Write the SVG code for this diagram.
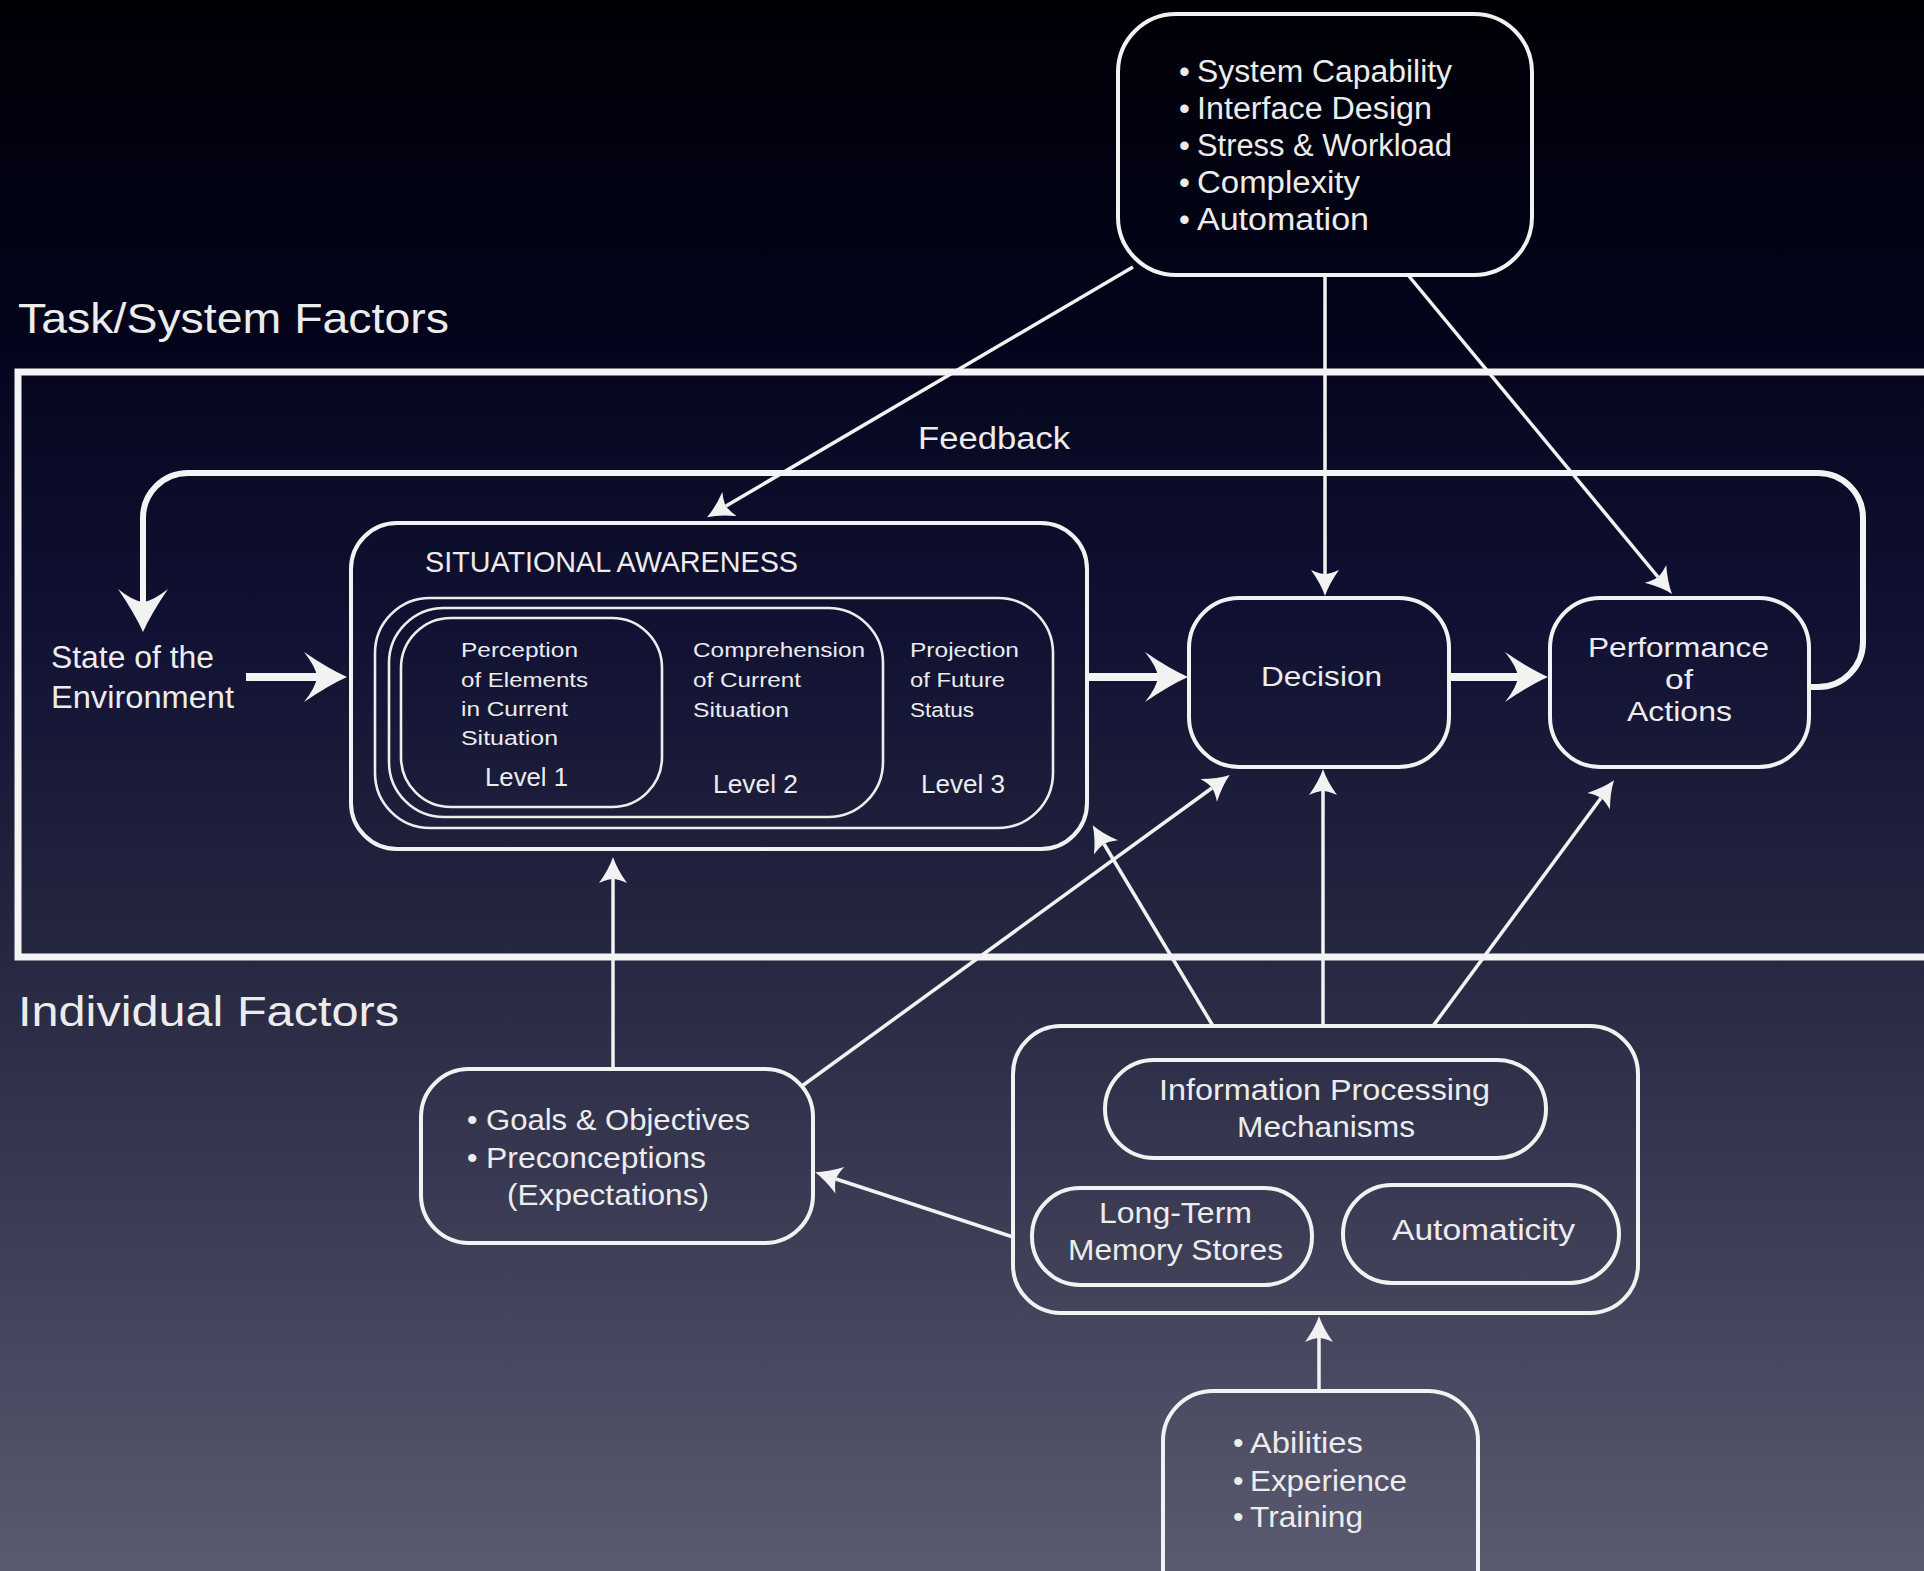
<svg xmlns="http://www.w3.org/2000/svg" width="1924" height="1571" viewBox="0 0 1924 1571">
  <defs>
    <linearGradient id="bg" x1="0" y1="0" x2="0" y2="1">
      <stop offset="0" stop-color="#000006"/>
      <stop offset="0.2" stop-color="#03041a"/>
      <stop offset="0.4" stop-color="#111233"/>
      <stop offset="0.6" stop-color="#25263f"/>
      <stop offset="0.8" stop-color="#3f4058"/>
      <stop offset="1" stop-color="#5a5b70"/>
    </linearGradient>
    <!-- small swept arrowhead, notch at origin -->
    <marker id="thin" markerUnits="userSpaceOnUse" viewBox="-6 -16 30 32" refX="0" refY="0" markerWidth="30" markerHeight="32" orient="auto" overflow="visible">
      <path d="M22,0 Q10,-4 -4,-14 Q0,-5 0,0 Q0,5 -4,14 Q10,4 22,0 Z" fill="#f2f2f2"/>
    </marker>
    <!-- large swept arrowhead, notch at origin -->
    <marker id="thick" markerUnits="userSpaceOnUse" viewBox="-16 -28 50 56" refX="0" refY="0" markerWidth="50" markerHeight="56" orient="auto" overflow="visible">
      <path d="M30,0 Q12,-8 -13,-25 Q-1,-10 0,0 Q-1,10 -13,25 Q12,8 30,0 Z" fill="#f2f2f2"/>
    </marker>
    <style>
      text { font-family: "Liberation Sans", Arial, sans-serif; fill: #ececec; }
      .box { fill: none; stroke: #f2f2f2; stroke-width: 4; }
      .lvl { fill: none; stroke: #ededed; stroke-width: 2.6; }
      .conn { fill: none; stroke: #f2f2f2; stroke-width: 3.5; marker-end: url(#thin); }
      .fat { fill: none; stroke: #f4f4f4; stroke-width: 8; marker-end: url(#thick); }
      .frame { fill: none; stroke: #f4f4f4; stroke-width: 7; }
      .head { font-size: 42px; }
      .t31 { font-size: 31px; }
      .t30 { font-size: 30px; }
      .t28 { font-size: 28px; }
      .t20 { font-size: 20px; }
      .t25 { font-size: 25px; }
    </style>
  </defs>

  <rect x="0" y="0" width="1924" height="1571" fill="url(#bg)"/>

  <!-- section labels and frame -->
  <text class="head" x="18" y="333" textLength="431" lengthAdjust="spacingAndGlyphs">Task/System Factors</text>
  <text class="head" x="18" y="1026" textLength="381" lengthAdjust="spacingAndGlyphs">Individual Factors</text>
  <path class="frame" d="M1935 372 L18 372 L18 957 L1935 957"/>

  <!-- connectors -->
  <g id="connectors">
    <path class="conn" d="M1133 267 L726 506"/>
    <path class="conn" d="M1325 275 L1325 574"/>
    <path class="conn" d="M1408 275 L1658 577"/>
    <path class="conn" d="M613 1069 L613 879"/>
    <path class="conn" d="M802 1086 L1212 788"/>
    <path class="conn" d="M1213 1026 L1104 844"/>
    <path class="conn" d="M1323 1026 L1323 791"/>
    <path class="conn" d="M1433 1026 L1601 798"/>
    <path class="conn" d="M1013 1237 L836 1179"/>
    <path class="conn" d="M1319 1391 L1319 1338"/>
    <path class="fat" d="M246 677 L317 677"/>
    <path class="fat" d="M1088 677 L1158 677"/>
    <path class="fat" d="M1449 677 L1518 677"/>
    <path id="feedback-loop" fill="none" stroke="#f4f4f4" stroke-width="6" marker-end="url(#thick)" d="M1809 687 L1818 687 A45 45 0 0 0 1863 642 L1863 518 A45 45 0 0 0 1818 473 L188 473 A45 45 0 0 0 143 518 L143 602"/>
    <text class="t31" x="918" y="449" textLength="152" lengthAdjust="spacingAndGlyphs">Feedback</text>
  </g>

  <!-- task / system factors -->
  <g id="task-factors">
    <rect class="box" x="1118" y="14" width="414" height="261" rx="58"/>
    <g class="t31">
      <text x="1179" y="82">•</text><text x="1197" y="82" textLength="255" lengthAdjust="spacingAndGlyphs">System Capability</text>
      <text x="1179" y="119">•</text><text x="1197" y="119" textLength="235" lengthAdjust="spacingAndGlyphs">Interface Design</text>
      <text x="1179" y="156">•</text><text x="1197" y="156" textLength="255" lengthAdjust="spacingAndGlyphs">Stress &amp; Workload</text>
      <text x="1179" y="193">•</text><text x="1197" y="193" textLength="163" lengthAdjust="spacingAndGlyphs">Complexity</text>
      <text x="1179" y="230">•</text><text x="1197" y="230" textLength="172" lengthAdjust="spacingAndGlyphs">Automation</text>
    </g>
  </g>

  <!-- state of the environment -->
  <g id="environment" class="t31">
    <text x="51" y="668" textLength="163" lengthAdjust="spacingAndGlyphs">State of the</text>
    <text x="51" y="708" textLength="183" lengthAdjust="spacingAndGlyphs">Environment</text>
  </g>

  <!-- situational awareness -->
  <g id="situational-awareness">
    <rect class="box" x="351" y="523" width="736" height="326" rx="46"/>
    <text class="t30" x="425" y="572" textLength="373" lengthAdjust="spacingAndGlyphs">SITUATIONAL AWARENESS</text>
    <rect class="lvl" x="375" y="598" width="678" height="230" rx="55"/>
    <rect class="lvl" x="389" y="608" width="494" height="209" rx="55"/>
    <rect class="lvl" x="401" y="618" width="261" height="189" rx="50"/>
    <g class="t20">
      <text x="461" y="657" textLength="117" lengthAdjust="spacingAndGlyphs">Perception</text>
      <text x="461" y="687" textLength="127" lengthAdjust="spacingAndGlyphs">of Elements</text>
      <text x="461" y="716" textLength="107" lengthAdjust="spacingAndGlyphs">in Current</text>
      <text x="461" y="745" textLength="97" lengthAdjust="spacingAndGlyphs">Situation</text>
      <text x="693" y="657" textLength="172" lengthAdjust="spacingAndGlyphs">Comprehension</text>
      <text x="693" y="687" textLength="108" lengthAdjust="spacingAndGlyphs">of Current</text>
      <text x="693" y="717" textLength="96" lengthAdjust="spacingAndGlyphs">Situation</text>
      <text x="910" y="657" textLength="109" lengthAdjust="spacingAndGlyphs">Projection</text>
      <text x="910" y="687" textLength="95" lengthAdjust="spacingAndGlyphs">of Future</text>
      <text x="910" y="717" textLength="64" lengthAdjust="spacingAndGlyphs">Status</text>
    </g>
    <g class="t25">
      <text x="485" y="786" textLength="83" lengthAdjust="spacingAndGlyphs">Level 1</text>
      <text x="713" y="793" textLength="85" lengthAdjust="spacingAndGlyphs">Level 2</text>
      <text x="921" y="793" textLength="84" lengthAdjust="spacingAndGlyphs">Level 3</text>
    </g>
  </g>

  <!-- decision -->
  <g id="decision">
    <rect class="box" x="1189" y="598" width="260" height="169" rx="50"/>
    <text class="t28" x="1261" y="686" textLength="121" lengthAdjust="spacingAndGlyphs">Decision</text>
  </g>

  <!-- performance of actions -->
  <g id="performance">
    <rect class="box" x="1550" y="598" width="259" height="169" rx="50"/>
    <g class="t28">
      <text x="1588" y="657" textLength="181" lengthAdjust="spacingAndGlyphs">Performance</text>
      <text x="1665" y="689" textLength="28" lengthAdjust="spacingAndGlyphs">of</text>
      <text x="1627" y="721" textLength="105" lengthAdjust="spacingAndGlyphs">Actions</text>
    </g>
  </g>

  <!-- goals and preconceptions -->
  <g id="goals">
    <rect class="box" x="421" y="1069" width="392" height="174" rx="48"/>
    <g class="t30">
      <text x="467" y="1130">•</text><text x="486" y="1130" textLength="264" lengthAdjust="spacingAndGlyphs">Goals &amp; Objectives</text>
      <text x="467" y="1168">•</text><text x="486" y="1168" textLength="220" lengthAdjust="spacingAndGlyphs">Preconceptions</text>
      <text x="507" y="1205" textLength="202" lengthAdjust="spacingAndGlyphs">(Expectations)</text>
    </g>
  </g>

  <!-- individual processing -->
  <g id="processing">
    <rect class="box" x="1013" y="1026" width="625" height="287" rx="48"/>
    <rect class="box" x="1105" y="1060" width="441" height="98" rx="49"/>
    <rect class="box" x="1032" y="1188" width="280" height="97" rx="48"/>
    <rect class="box" x="1343" y="1185" width="276" height="98" rx="49"/>
    <g class="t30">
      <text x="1159" y="1100" textLength="331" lengthAdjust="spacingAndGlyphs">Information Processing</text>
      <text x="1237" y="1137" textLength="178" lengthAdjust="spacingAndGlyphs">Mechanisms</text>
      <text x="1099" y="1223" textLength="153" lengthAdjust="spacingAndGlyphs">Long-Term</text>
      <text x="1068" y="1260" textLength="215" lengthAdjust="spacingAndGlyphs">Memory Stores</text>
      <text x="1392" y="1240" textLength="183" lengthAdjust="spacingAndGlyphs">Automaticity</text>
    </g>
  </g>

  <!-- abilities -->
  <g id="abilities">
    <rect class="box" x="1163" y="1391" width="315" height="240" rx="50"/>
    <g class="t30">
      <text x="1233" y="1453">•</text><text x="1250" y="1453" textLength="113" lengthAdjust="spacingAndGlyphs">Abilities</text>
      <text x="1233" y="1491">•</text><text x="1250" y="1491" textLength="157" lengthAdjust="spacingAndGlyphs">Experience</text>
      <text x="1233" y="1527">•</text><text x="1250" y="1527" textLength="113" lengthAdjust="spacingAndGlyphs">Training</text>
    </g>
  </g>
</svg>
